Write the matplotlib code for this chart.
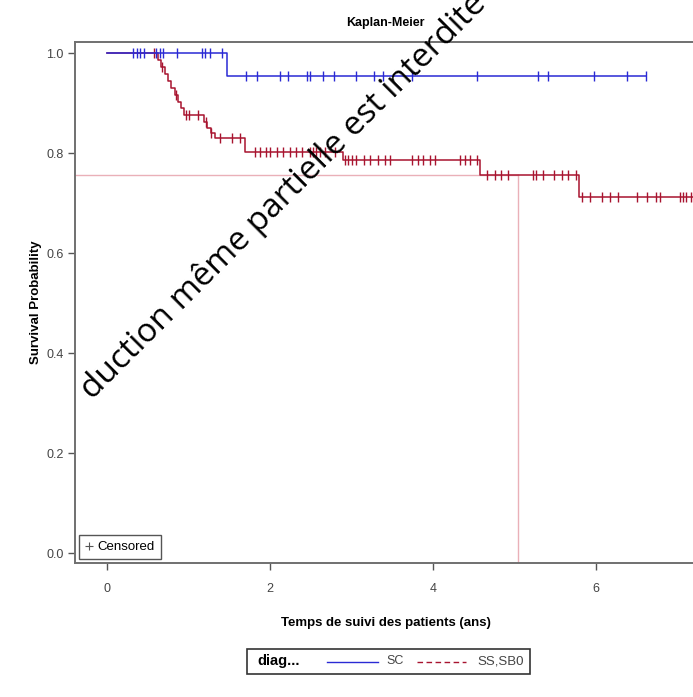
import numpy as np
import matplotlib
matplotlib.use("Agg")
import matplotlib.pyplot as plt
from matplotlib.lines import Line2D
from matplotlib.patches import Rectangle

plt.rcParams['font.family'] = ['Liberation Sans Narrow', 'Liberation Sans', 'DejaVu Sans']

# ---- data ----
sc_times = [1.47]
sc_surv = [0.955]
sc_end = 6.61
sc_cens = [0.315, 0.364, 0.405, 0.45, 0.60, 0.65, 0.69, 0.855, 1.16, 1.20, 1.26, 1.41,
           1.71, 1.84, 2.12, 2.22, 2.45, 2.49, 2.65, 2.78, 3.06, 3.27, 3.39, 3.74,
           4.54, 5.29, 5.41, 5.97, 6.38, 6.61]

ss_times = [0.62, 0.66, 0.71, 0.75, 0.79, 0.83, 0.87, 0.91, 0.95, 1.19, 1.23, 1.27,
            1.33, 1.69, 2.89, 4.58, 5.79]
ss_surv = [0.986, 0.972, 0.958, 0.944, 0.930, 0.916, 0.903, 0.890, 0.877, 0.863,
           0.850, 0.840, 0.830, 0.803, 0.787, 0.757, 0.713]
ss_end = 7.25
ss_cens = [0.58, 0.68, 0.85, 0.97, 1.00, 1.12, 1.21, 1.28, 1.39, 1.53, 1.63, 1.82,
           1.88, 1.95, 2.00, 2.08, 2.16, 2.24, 2.32, 2.39, 2.49, 2.53, 2.57, 2.61,
           2.68, 2.80, 2.92, 2.96, 3.00, 3.06, 3.15, 3.23, 3.33, 3.41, 3.47, 3.74,
           3.82, 3.88, 3.96, 4.02, 4.33, 4.39, 4.45, 4.54, 4.66, 4.76, 4.84, 4.92,
           5.23, 5.26, 5.35, 5.48, 5.58, 5.66, 5.76, 5.83, 5.93, 6.07, 6.17, 6.27,
           6.50, 6.62, 6.74, 6.78, 7.03, 7.07, 7.11, 7.17]

ref_time = 5.04
ref_surv = 0.757

xticks = [0, 2, 4, 6]
yticks = [0.0, 0.2, 0.4, 0.6, 0.8, 1.0]

blue = '#2a2ad4'
red = '#a8142f'


def step_xy(times, surv, end):
    x = [0.0]
    y = [1.0]
    for t, s in zip(times, surv):
        x += [t, t]
        y += [y[-1], s]
    x.append(end)
    y.append(y[-1])
    return x, y


def surv_at(times, surv, t):
    levels = np.concatenate([[1.0], surv])
    idx = np.searchsorted(times, t, side='right')
    return levels[idx]


fig = plt.figure(figsize=(6.93, 6.97), dpi=100)
W, H = 693.0, 697.0
ax = fig.add_axes([75 / W, 1 - 563.3 / H, (696 - 75) / W, (563.3 - 41.7) / H])

# reference lines (5 year)
ax.plot([-1, ref_time], [ref_surv, ref_surv], color='#eab0b8', lw=1, zorder=1)
ax.plot([ref_time, ref_time], [-1, ref_surv], color='#eab0b8', lw=1, zorder=1)

x, y = step_xy(ss_times, ss_surv, ss_end)
ax.plot(x, y, color=red, lw=1.1, zorder=2)
ax.plot(ss_cens, surv_at(ss_times, ss_surv, np.array(ss_cens)), ls='none',
        marker='|', ms=7, mew=1.0, color=red, zorder=3)

x, y = step_xy(sc_times, sc_surv, sc_end)
ax.plot(x, y, color=blue, lw=1.1, zorder=4)
ax.plot(sc_cens, surv_at(sc_times, sc_surv, np.array(sc_cens)), ls='none',
        marker='|', ms=7, mew=1.0, color=blue, zorder=5)

ax.set_xlim((75 - 107) / 81.5, (696 - 107) / 81.5)
ax.set_ylim(-0.02, 1.023)
ax.set_xticks(xticks)
ax.set_xticklabels([str(v) for v in xticks])
ax.set_yticks(yticks)
ax.set_yticklabels(['%.1f' % v for v in yticks])
ax.tick_params(direction='out', length=5, width=1, color='#555555',
               labelsize=9, labelcolor='#444444')
ax.tick_params(axis='x', pad=9)
ax.tick_params(axis='y', pad=3)
for sp in ax.spines.values():
    sp.set_color('#707070')
    sp.set_linewidth(1.4)

ax.set_title('Kaplan-Meier', fontsize=9, fontweight='bold', pad=11)
ax.set_xlabel('Temps de suivi des patients (ans)', fontsize=9.5, fontweight='bold', labelpad=16)
ax.set_ylabel('Survival Probability', fontsize=9.5, fontweight='bold', labelpad=3)

# censored legend
h = Line2D([], [], ls='none', marker='+', ms=6, mew=0.8, color='#555555')
leg = ax.legend([h], ['Censored'], loc='lower left', fontsize=9.5, handlelength=0.6,
                handletextpad=0.35, borderpad=0.45, borderaxespad=0.3, fancybox=False,
                edgecolor='#555555', framealpha=1)
leg.get_frame().set_linewidth(1.0)

# bottom group legend
fig.patches.append(Rectangle((247 / W, 1 - 674 / H), (530 - 247) / W, 25 / H,
                             transform=fig.transFigure, fill=False, ec='#333333', lw=1.2))
ty = 1 - 661.5 / H
fig.text(257 / W, ty, 'diag...', fontsize=10.5, fontweight='bold', va='center')
fig.add_artist(Line2D([327 / W, 378 / W], [ty, ty], color=blue, lw=1,
                      transform=fig.transFigure))
fig.text(386 / W, ty, 'SC', fontsize=9, va='center', color='#444444')
fig.add_artist(Line2D([417 / W, 466 / W], [ty, ty], color=red, lw=1, ls=(0, (4, 2.5)),
                      transform=fig.transFigure))
fig.text(477 / W, ty, 'SS,SB0', fontsize=9.5, va='center', color='#444444')

# watermark (cut off at the top edge, as in the scan)
fig.text(92 / W, 1 - 400 / H, 'duction même partielle est interdite',
         family=['Open Sans', 'DejaVu Sans'], fontsize=24, rotation=45,
         rotation_mode='anchor', ha='left', va='baseline', color='black')

fig.savefig('out.png', dpi=100)
